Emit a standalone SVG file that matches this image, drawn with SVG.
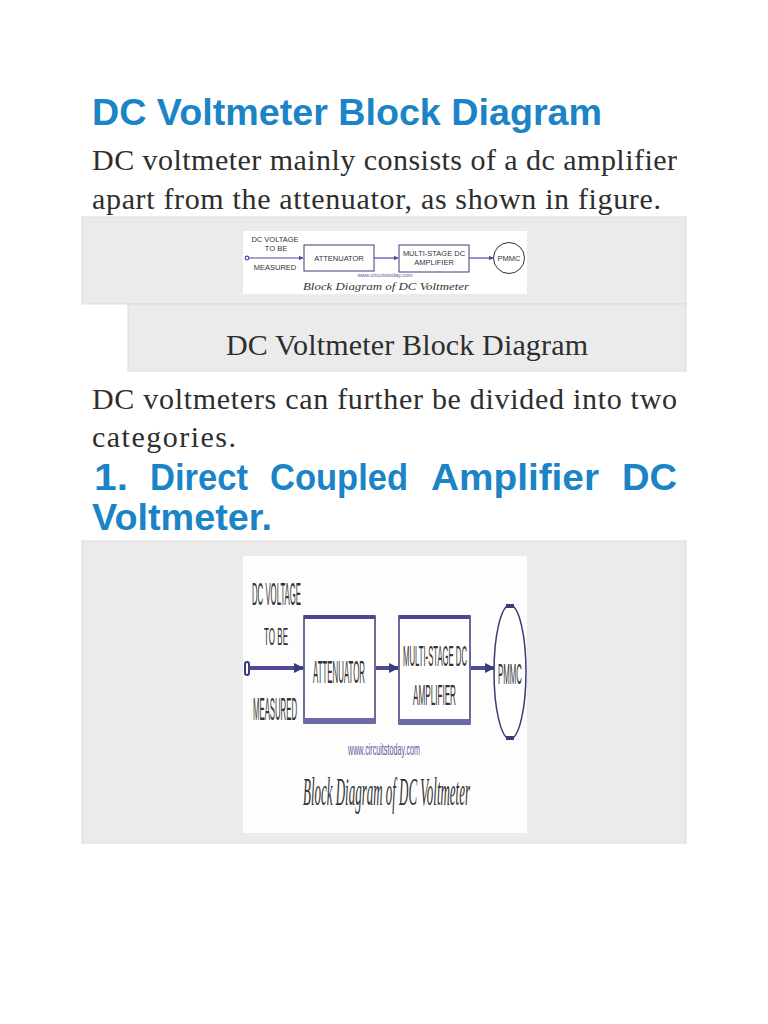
<svg xmlns="http://www.w3.org/2000/svg" width="768" height="1024" viewBox="0 0 768 1024">
<defs>
<style>
.h{font-family:"Liberation Sans",Arial,sans-serif;font-weight:bold;fill:#1a84c6;font-size:37px}
.b{font-family:"Liberation Serif","Times New Roman",serif;fill:#2e2e2e;font-size:30px}
.panel{fill:#ebebeb;stroke:#dcdcdc;stroke-width:1}
.s{font-family:"Liberation Sans",Arial,sans-serif;fill:#333;font-size:7.5px}
.box{fill:#fff;stroke:#3b3b7a;stroke-width:1}
.wire{stroke:#4f4a96;stroke-width:1.2;fill:none}
.bwire{stroke:#4f4a96;stroke-width:4;fill:none}
.c{font-family:"Liberation Sans Narrow","Liberation Sans",Arial,sans-serif;fill:#333}
.bbox{fill:#fff;stroke:#3b3b7a;stroke-width:1.5}
</style>
<marker id="a1" viewBox="0 0 10 10" refX="9" refY="5" markerWidth="5" markerHeight="5" orient="auto" markerUnits="userSpaceOnUse"><path d="M0,0L10,5L0,10z" fill="#4f4a96"/></marker>
<marker id="a2" viewBox="0 0 10 10" refX="9" refY="5" markerWidth="10" markerHeight="10" orient="auto" markerUnits="userSpaceOnUse"><path d="M0,0L10,5L0,10z" fill="#3b3b7a"/></marker>
</defs>
<rect width="768" height="1024" fill="#fff"/>

<text class="h" x="92" y="125" textLength="510" lengthAdjust="spacingAndGlyphs">DC Voltmeter Block Diagram</text>
<text class="b" x="92" y="170" textLength="585" lengthAdjust="spacing">DC voltmeter mainly consists of a dc amplifier</text>
<text class="b" x="92" y="209" textLength="569" lengthAdjust="spacing">apart from the attenuator, as shown in figure.</text>

<rect class="panel" x="82" y="217" width="604" height="87"/>
<rect class="panel" x="128" y="304" width="558" height="67"/>
<text class="b" x="226" y="355" textLength="362" lengthAdjust="spacing">DC Voltmeter Block Diagram</text>

<g id="small-diagram">
<rect x="243" y="231" width="284" height="63" fill="#fff"/>
<g id="s-input">
<text class="s" x="275" y="242" text-anchor="middle">DC VOLTAGE</text>
<text class="s" x="276" y="251" text-anchor="middle">TO BE</text>
<circle cx="247" cy="258" r="1.8" fill="#fff" stroke="#4f4a96" stroke-width="1.2"/>
<text class="s" x="275" y="270" text-anchor="middle">MEASURED</text>
</g>
<g id="s-attenuator">
<rect class="box" x="304" y="245" width="70" height="26"/>
<text class="s" x="339" y="261" text-anchor="middle">ATTENUATOR</text>
</g>
<g id="s-amplifier">
<rect class="box" x="399" y="245" width="70" height="27"/>
<text class="s" x="434" y="256" text-anchor="middle">MULTI-STAGE DC</text>
<text class="s" x="434" y="265" text-anchor="middle">AMPLIFIER</text>
</g>
<g id="s-pmmc">
<circle cx="509" cy="258" r="15.5" fill="#fff" stroke="#333" stroke-width="1"/>
<text class="s" x="509" y="261" text-anchor="middle" font-size="7">PMMC</text>
</g>
<text x="385" y="277" text-anchor="middle" font-family="Liberation Sans,Arial,sans-serif" font-size="5.5" fill="#5a5aa0">www.circuitstoday.com</text>
<text x="386" y="290" text-anchor="middle" font-family="Liberation Serif,Times New Roman,serif" font-style="italic" font-size="11" fill="#333" textLength="166" lengthAdjust="spacingAndGlyphs">Block Diagram of DC Voltmeter</text>
<g id="s-connectors">
<line class="wire" x1="249" y1="258" x2="303" y2="258" marker-end="url(#a1)"/>
<line class="wire" x1="374" y1="258" x2="398" y2="258" marker-end="url(#a1)"/>
<line class="wire" x1="469" y1="258" x2="493" y2="258" marker-end="url(#a1)"/>
</g>
</g>

<text class="b" x="92" y="409" textLength="585" lengthAdjust="spacing">DC voltmeters can further be divided into two</text>
<text class="b" x="92" y="447" textLength="144" lengthAdjust="spacing">categories.</text>
<g class="h">
<text x="94" y="490" textLength="34" lengthAdjust="spacingAndGlyphs">1.</text>
<text x="150" y="490" textLength="98" lengthAdjust="spacingAndGlyphs">Direct</text>
<text x="270" y="490" textLength="138" lengthAdjust="spacingAndGlyphs">Coupled</text>
<text x="431" y="490" textLength="168" lengthAdjust="spacingAndGlyphs">Amplifier</text>
<text x="622" y="490" textLength="55" lengthAdjust="spacingAndGlyphs">DC</text>
<text x="92" y="530" textLength="180" lengthAdjust="spacingAndGlyphs">Voltmeter.</text>
</g>

<rect class="panel" x="82" y="541" width="604" height="302"/>

<g id="big-diagram">
<rect x="243" y="556" width="284" height="277" fill="#fdfdfd"/>
<g id="b-input">
<text class="c" font-size="9.3" textLength="49" lengthAdjust="spacingAndGlyphs" transform="translate(252 605) scale(1 3.4)">DC VOLTAGE</text>
<text class="c" font-size="9.7" textLength="24" lengthAdjust="spacingAndGlyphs" transform="translate(264 645) scale(1 2.5)">TO BE</text>
<rect x="245" y="662" width="4" height="13" rx="2" fill="#fff" stroke="#3b3b7a" stroke-width="2"/>
<text class="c" font-size="9.5" textLength="44" lengthAdjust="spacingAndGlyphs" transform="translate(253 720) scale(1 3.3)">MEASURED</text>
</g>
<g id="b-attenuator">
<rect class="bbox" x="304" y="616" width="71" height="107"/>
<rect x="304" y="615" width="71" height="4" fill="#4a4790"/>
<rect x="304" y="718" width="71" height="5" fill="#6b6aa6"/>
<text class="c" font-size="9.3" textLength="52" lengthAdjust="spacingAndGlyphs" transform="translate(313 683) scale(1 3.4)">ATTENUATOR</text>
</g>
<g id="b-amplifier">
<rect class="bbox" x="399" y="616" width="71" height="108"/>
<rect x="399" y="615" width="71" height="4" fill="#4a4790"/>
<rect x="399" y="719" width="71" height="5" fill="#6b6aa6"/>
<text class="c" font-size="8.6" textLength="64" lengthAdjust="spacingAndGlyphs" transform="translate(403 666) scale(1 3.4)">MULTI-STAGE DC</text>
<text class="c" font-size="9.8" textLength="43" lengthAdjust="spacingAndGlyphs" transform="translate(413 705) scale(1 3)">AMPLIFIER</text>
</g>
<g id="b-pmmc">
<ellipse cx="510" cy="672" rx="16" ry="67" fill="#fff" stroke="#3b3b7a" stroke-width="1.5"/>
<rect x="506" y="604" width="8" height="4" fill="#3b3b7a"/>
<rect x="506" y="736" width="8" height="4" fill="#3b3b7a"/>
<text class="c" font-size="9.6" textLength="24" lengthAdjust="spacingAndGlyphs" transform="translate(498 684) scale(1 3.1)">PMMC</text>
</g>
<text font-family="Liberation Sans Narrow,Liberation Sans,Arial,sans-serif" font-size="8.6" fill="#5a5aa0" textLength="72" lengthAdjust="spacingAndGlyphs" transform="translate(348 755) scale(1 2)">www.circuitstoday.com</text>
<text font-family="Liberation Serif,Times New Roman,serif" font-style="italic" font-size="12.8" fill="#333" textLength="167" lengthAdjust="spacingAndGlyphs" transform="translate(303 805) scale(1 3.2)">Block Diagram of DC Voltmeter</text>
<g id="b-connectors">
<line class="wire bwire" x1="249" y1="668" x2="303" y2="668" marker-end="url(#a2)"/>
<line class="wire bwire" x1="376" y1="668" x2="398" y2="668" marker-end="url(#a2)"/>
<line class="wire bwire" x1="471" y1="668" x2="494" y2="668" marker-end="url(#a2)"/>
</g>
</g>
</svg>
